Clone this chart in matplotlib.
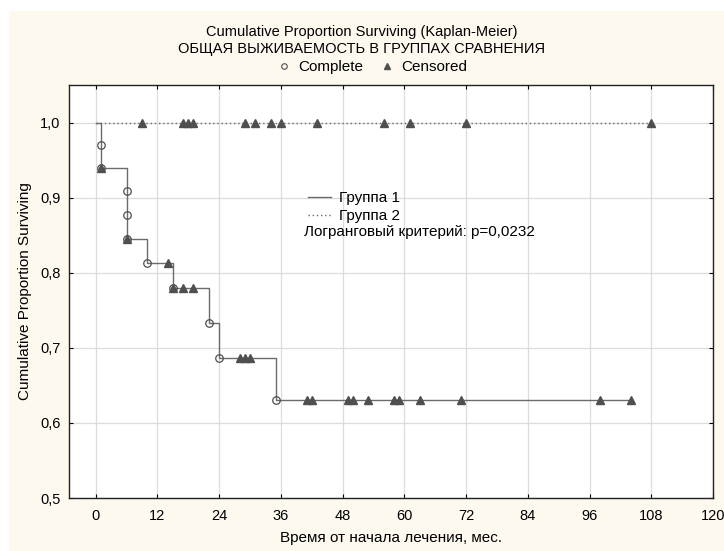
import numpy as np
import matplotlib
matplotlib.use("Agg")
import matplotlib.pyplot as plt
from matplotlib.lines import Line2D
from matplotlib.patches import Rectangle
from matplotlib.ticker import FuncFormatter

plt.rcParams['font.family'] = ['Liberation Sans', 'DejaVu Sans']

# Group 1: step curve (time, survival after the step)
g1_times = [0, 1, 6, 10, 15, 22, 24, 35, 104]
g1_surv = [1.0, 0.939, 0.845, 0.813, 0.779, 0.733, 0.687, 0.630, 0.630]

# Complete (event) points of group 1
g1_event_t = [1, 1, 6, 6, 6, 10, 15, 22, 24, 35]
g1_event_s = [0.970, 0.939, 0.909, 0.877, 0.845, 0.813, 0.779, 0.733, 0.687, 0.630]

# Censored points
g1_cens_t = [1, 6, 14, 15, 17, 19, 28, 29, 30, 41, 42, 49, 50, 53, 58, 59, 63, 71, 98, 104]
g2_times = [0, 108]
g2_surv = [1.0, 1.0]
g2_cens_t = [9, 17, 18, 19, 29, 31, 34, 36, 43, 56, 61, 72, 108]

x_ticks = [0, 12, 24, 36, 48, 60, 72, 84, 96, 108, 120]
y_ticks = [0.5, 0.6, 0.7, 0.8, 0.9, 1.0]


def step_value(times, surv, t):
    i = np.searchsorted(times, t, side='right') - 1
    return surv[i]


g1_cens_s = [step_value(g1_times, g1_surv, t) for t in g1_cens_t]
g2_cens_s = [step_value(g2_times, g2_surv, t) for t in g2_cens_t]

line_col = '#6b6b6b'
mark_col = '#4f4f4f'
fs = 11
fs_tick = 10.5
fs_title = 10.5

fig = plt.figure(figsize=(7.24, 5.51), dpi=100)
fig.patch.set_facecolor('white')
fig.patches.append(Rectangle((9 / 724, 0), 1, 1 - 11 / 551, transform=fig.transFigure,
                             facecolor='#fdf9ef', edgecolor='none', zorder=-10))

ax = fig.add_axes([69 / 724, 1 - 498 / 551, 644 / 724, 413 / 551])
ax.set_facecolor('white')

ax.step(g1_times, g1_surv, where='post', color=line_col, lw=1.0, zorder=3)
ax.step(g2_times, g2_surv, where='post', color=line_col, lw=1.0, ls=(0, (1, 2)), zorder=3)

ax.plot(g1_event_t, g1_event_s, 'o', ms=5.4, mfc='none', mec=mark_col, mew=0.9, zorder=4)
ax.plot(g1_cens_t, g1_cens_s, '^', ms=5.8, color=mark_col, mec=mark_col, zorder=5)
ax.plot(g2_cens_t, g2_cens_s, '^', ms=5.8, color=mark_col, mec=mark_col, zorder=5)

ax.set_xlim(-5.2, 120)
ax.set_ylim(0.5, 1.05)
ax.set_xticks(x_ticks)
ax.set_yticks(y_ticks)
ax.yaxis.set_major_formatter(FuncFormatter(lambda v, p: f"{v:.1f}".replace('.', ',')))
ax.tick_params(direction='in', length=3, width=0.8, top=True, right=True, labelsize=fs_tick)
ax.tick_params(axis='x', pad=8)
ax.tick_params(axis='y', pad=6)
ax.grid(True, color='#dcdcdc', lw=0.9)
ax.set_axisbelow(True)
for sp in ax.spines.values():
    sp.set_linewidth(1.0)
    sp.set_color('#222222')

ax.set_xlabel('Время от начала лечения, мес.', fontsize=fs, labelpad=6)
ax.set_ylabel('Cumulative Proportion Surviving', fontsize=fs, labelpad=6)

fig.text(0.5, 1 - 32 / 551, 'Cumulative Proportion Surviving (Kaplan-Meier)',
         ha='center', va='center', fontsize=fs_title)
fig.text(0.5, 1 - 48.5 / 551, 'ОБЩАЯ ВЫЖИВАЕМОСТЬ В ГРУППАХ СРАВНЕНИЯ',
         ha='center', va='center', fontsize=fs_title)

top_handles = [
    Line2D([], [], ls='none', marker='o', ms=4, mfc='none', mec=mark_col, mew=0.8),
    Line2D([], [], ls='none', marker='^', ms=4.5, color=mark_col),
]
fig.legend(top_handles, ['Complete', 'Censored'], loc='center',
           bbox_to_anchor=(372 / 724, 1 - 67 / 551), ncol=2, frameon=False,
           fontsize=fs, handlelength=1.0, handletextpad=0.45, columnspacing=1.05,
           borderpad=0, borderaxespad=0)

grp_handles = [
    Line2D([], [], color=line_col, lw=1.0),
    Line2D([], [], color=line_col, lw=1.0, ls=(0, (1, 2))),
]
ax.legend(grp_handles, ['Группа 1', 'Группа 2'], loc='center left',
          bbox_to_anchor=(0.3711, 0.7046), frameon=False, fontsize=fs,
          handlelength=1.5, handletextpad=0.52, labelspacing=0.25,
          borderpad=0, borderaxespad=0)
ax.text(0.3649, 0.644, 'Логранговый критерий: p=0,0232', transform=ax.transAxes,
        ha='left', va='center', fontsize=fs)

fig.savefig('out.png', dpi=100, facecolor=fig.get_facecolor())
